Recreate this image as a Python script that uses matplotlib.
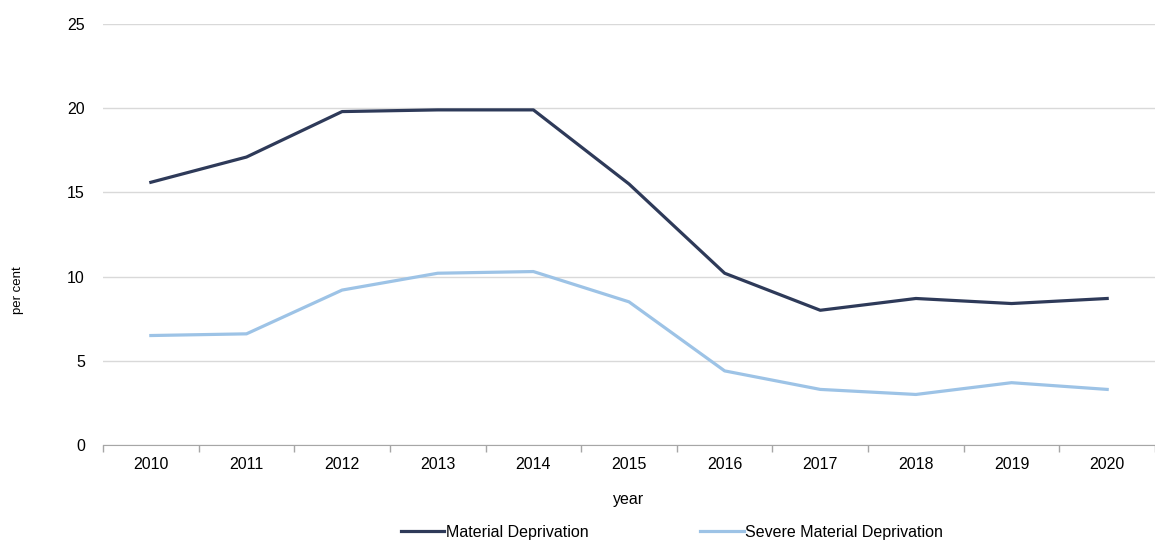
import matplotlib
matplotlib.use("Agg")
import matplotlib.pyplot as plt
import numpy as np

# Datos del grafico
years = ["2010", "2011", "2012", "2013", "2014", "2015", "2016", "2017", "2018", "2019", "2020"]
material = [15.6, 17.1, 19.8, 19.9, 19.9, 15.5, 10.2, 8.0, 8.7, 8.4, 8.7]
severe = [6.5, 6.6, 9.2, 10.2, 10.3, 8.5, 4.4, 3.3, 3.0, 3.7, 3.3]

plt.rcParams['font.family'] = ['Liberation Sans', 'DejaVu Sans']
fs = 11.5

fig = plt.figure(figsize=(11.55, 5.42), dpi=100)
ax = fig.add_axes([0.0892, 0.179, 0.9108, 0.7767])

x = np.arange(len(years))
ax.plot(x, material, color="#2E3A59", linewidth=2.3, label="Material Deprivation")
ax.plot(x, severe, color="#9DC3E6", linewidth=2.3, label="Severe Material Deprivation")

ax.set_xlim(-0.5, len(years) - 0.5)
ax.set_ylim(0, 25)
ax.set_yticks([0, 5, 10, 15, 20, 25])
ax.yaxis.grid(True, color="#D9D9D9", linewidth=1)
ax.set_axisbelow(True)

ax.set_xticks(x)
ax.set_xticklabels(years)
ax.set_xticks(np.arange(-0.5, len(years)), minor=True)
ax.tick_params(axis="x", which="major", length=0, pad=9, labelsize=fs)
ax.tick_params(axis="x", which="minor", length=5, color="#A6A6A6", width=1)
ax.tick_params(axis="y", length=0, pad=13, labelsize=fs)

for s in ["top", "right", "left"]:
    ax.spines[s].set_visible(False)
ax.spines["bottom"].set_color("#A6A6A6")

ax.set_xlabel("year", fontsize=fs, labelpad=14)
fig.text(0.016, 0.465, "per cent", rotation=90, fontsize=9.5, va="center", ha="center")

fig.legend(loc="center", bbox_to_anchor=(0.582, 0.018), ncol=2, frameon=False,
           fontsize=fs, handlelength=2.7, handletextpad=0.1, columnspacing=7.0,
           borderpad=0.1)

fig.savefig("out.png", dpi=100)
